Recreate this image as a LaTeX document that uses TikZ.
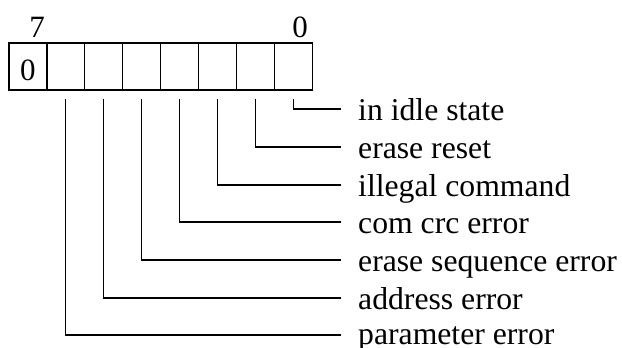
\documentclass[tikz,border=0pt]{standalone}
\usepackage{fontspec}
\setmainfont{Liberation Serif}
\begin{document}
\begin{tikzpicture}[x=1pt,y=-1pt,
  cell/.style={draw,line width=1.2pt,minimum width=37.9pt,minimum height=47pt,inner sep=0pt,outer sep=0pt,anchor=north west},
  lbl/.style={anchor=base west,inner sep=0pt,font=\fontsize{31.7}{36}\selectfont},
  num/.style={anchor=base,inner sep=0pt,font=\fontsize{31}{36}\selectfont},
  conn/.style={line width=1.2pt}]
\useasboundingbox (0,0) rectangle (622,348);
\foreach \i in {0,...,7} {
  \node[cell] (c\i) at ({9+37.9*\i},43) {};
}
\node[num] (n7) at (37,37) {7};
\node[num] (n0) at (300,37) {0};
\node[num] (z) at (c0.center) [yshift=-14pt] {0};
% labels
\node[lbl] (l0) at (358,120) {in idle state};
\node[lbl] (l1) at (358,158) {erase reset};
\node[lbl] (l2) at (358,196) {illegal command};
\node[lbl] (l3) at (358,233) {com crc error};
\node[lbl] (l4) at (358,271) {erase sequence error};
\node[lbl] (l5) at (358,309) {address error};
\node[lbl] (l6) at (358,344) {parameter error};
\foreach \c/\y/\l in {7/109/0,6/147/1,5/185/2,4/222/3,3/260/4,2/298/5,1/335/6} {
  \coordinate (e\l) at (341,\y);
  \draw[conn] ([yshift=-9pt]c\c.south) |- (e\l);
}
\end{tikzpicture}
\end{document}
